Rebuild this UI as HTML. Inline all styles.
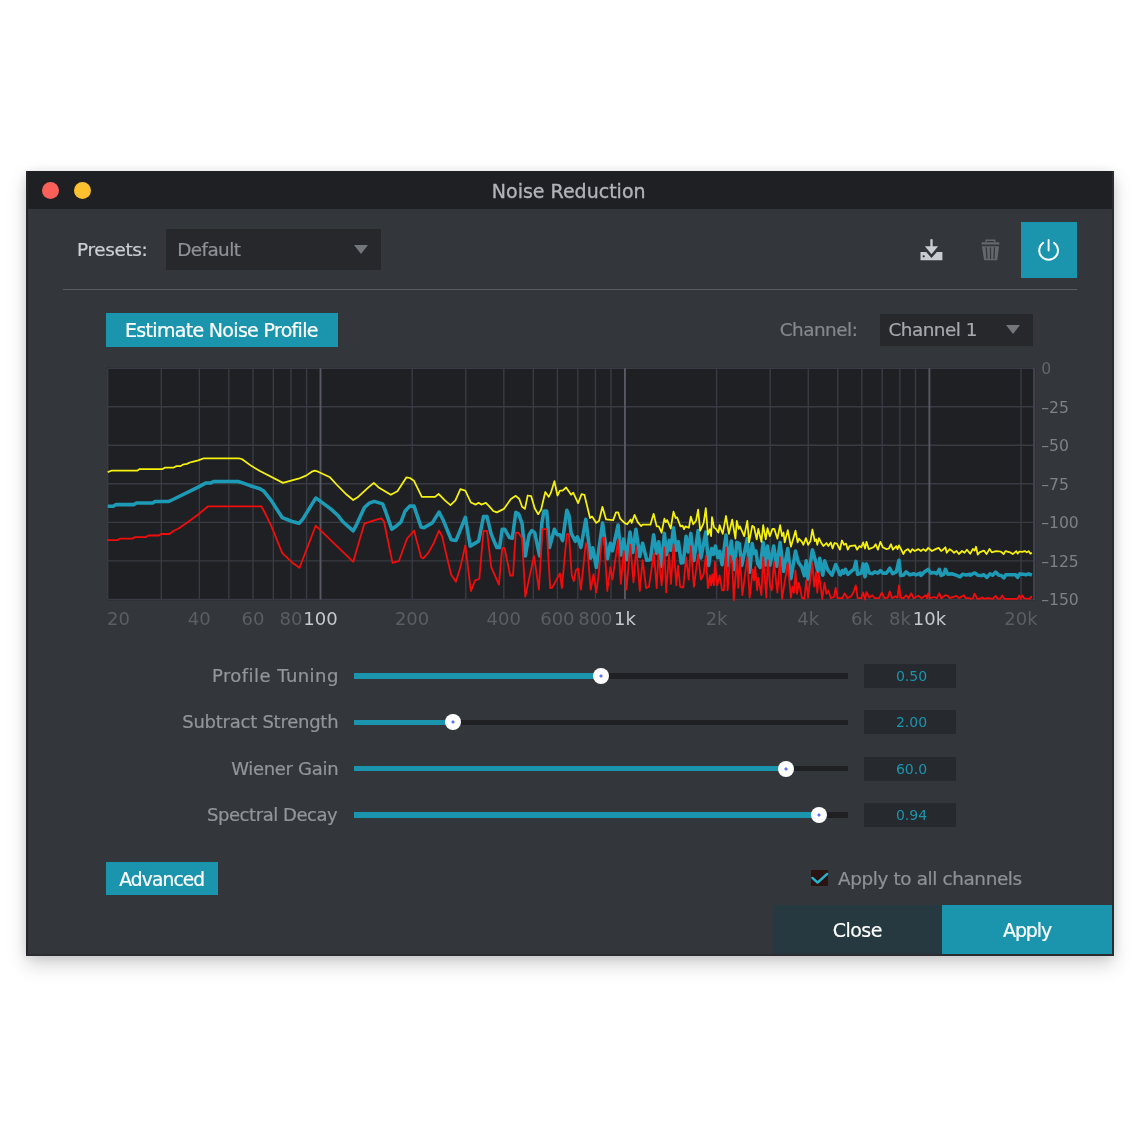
<!DOCTYPE html>
<html lang="en">
<head>
<meta charset="utf-8">
<title>Noise Reduction</title>
<style>
*{box-sizing:border-box;margin:0;padding:0}
html,body{width:1140px;height:1140px;background:#fff;overflow:hidden}
body{font-family:"DejaVu Sans","Liberation Sans",sans-serif;position:relative;color:#8e9196}
.abs{position:absolute}
.t,.btn,.lab{-webkit-text-stroke:.22px currentColor}
.win{position:absolute;left:26px;top:171px;width:1088px;height:784.6px;background:#33363b;
 box-shadow:0 9px 18px rgba(0,0,0,.17),0 1px 10px rgba(0,0,0,.11);will-change:transform;}
.edge{position:absolute;left:0;top:0;width:1088px;height:784.6px;border-left:2px solid #24262a;border-right:2px solid #2a2c30;border-bottom:2px solid #2a2c30;pointer-events:none}
.tbar{position:absolute;left:0;top:0;width:1088px;height:38.4px;background:#1e2023}
.dot{position:absolute;width:17px;height:17px;border-radius:50%;top:11px}
.t{position:absolute;white-space:nowrap;line-height:1}
.title{left:-1.3px;width:1088px;top:10.7px;text-align:center;font-size:19px;color:#b1b4b9;-webkit-text-stroke:.35px #b1b4b9}
.btn{position:absolute;background:#1b94ad;color:#fff;text-align:center;white-space:nowrap}
.dd{position:absolute;background:#26282b}
.tri{position:absolute;width:0;height:0;border-left:7.5px solid transparent;border-right:7.5px solid transparent;border-top:9.5px solid #73767b}
.lab{position:absolute;white-space:nowrap;font-size:18px;line-height:22px;color:#92959a;text-align:right;width:240px;left:72.8px}
.track{position:absolute;left:327.5px;width:494px;height:5.5px;background:#1e2023}
.fill{position:absolute;left:0;top:0;height:5.5px;background:#1b94ad}
.knob{position:absolute;width:16px;height:16px;border-radius:50%;background:radial-gradient(circle at 50% 50%,#5577ff 0,#5577ff 1.1px,#fff 2px);top:-5.25px}
.val{position:absolute;left:837.7px;width:92.3px;padding-left:3.4px;height:24.3px;background:#26292d;color:#1b94ad;font-size:14px;line-height:24.3px;text-align:center}
</style>
</head>
<body>
<div class="win">
  <div class="tbar">
    <div class="dot" style="left:15.8px;background:#f9605a"></div>
    <div class="dot" style="left:48.1px;background:#fdc02f"></div>
    <div class="t title">Noise Reduction</div>
  </div>

  <!-- presets row -->
  <div class="t" style="left:51px;top:69.8px;font-size:18.4px;color:#cdd0d4;letter-spacing:-.35px">Presets:</div>
  <div class="dd" style="left:140px;top:58px;width:215px;height:41px"></div>
  <div class="t" style="left:151.3px;top:69.8px;font-size:18.4px;color:#8e9196;letter-spacing:-.6px">Default</div>
  <div class="tri" style="left:327.7px;top:73.8px"></div>

  <!-- toolbar icons -->
  <svg class="abs" style="left:892px;top:66px" width="28" height="26" viewBox="0 0 28 26">
    <g fill="#c9ccd0">
      <rect x="12.35" y="2.2" width="2.3" height="8"/>
      <path d="M6.9 9.3 L20.1 9.3 L13.5 17.2 Z"/>
      <path d="M2.5 14.9 L8.2 14.9 L13.5 21 L18.8 14.9 L24.4 14.9 L24.4 23.3 L2.5 23.3 Z"/>
    </g>
    <circle cx="5.7" cy="19.3" r="1.15" fill="#33363b"/>
  </svg>
  <svg class="abs" style="left:952px;top:66px" width="26" height="26" viewBox="0 0 26 26">
    <path d="M8.1 5.4 L8.1 3.2 L16.8 3.2 L16.8 5.4" fill="none" stroke="#64676c" stroke-width="1.4"/>
    <g fill="#64676c">
      <path d="M3.9 5.3 L21.1 5.3 L21.6 7.5 L3.4 7.5 Z"/>
      <path d="M3.9 9.2 L21 9.2 L19.3 23.3 L6.1 23.3 Z"/>
    </g>
    <path d="M8.2 10.4 L9.1 21.9 M12.45 10.4 L12.55 21.9 M16.5 10.4 L15.9 21.9" stroke="#33363b" stroke-width="1.25" fill="none"/>
  </svg>
  <div class="abs" style="left:995px;top:51px;width:56px;height:56px;background:#1b94ad"></div>
  <svg class="abs" style="left:1008px;top:66px" width="30" height="30" viewBox="0 0 30 30">
    <path d="M9.2 5.7 A9.4 9.4 0 1 0 20 5.7" fill="none" stroke="#fff" stroke-width="1.9" stroke-linecap="round"/>
    <path d="M14.6 2.9 L14.6 13.5" stroke="#fff" stroke-width="1.9" stroke-linecap="round"/>
  </svg>

  <!-- separator -->
  <div class="abs" style="left:37px;top:117.5px;width:1014px;height:1.5px;background:#5a5d63"></div>

  <!-- estimate + channel -->
  <div class="btn" style="left:80.2px;top:142px;width:232px;height:34px;font-size:19px;line-height:35px;letter-spacing:-.68px;padding-right:1.6px">Estimate Noise Profile</div>
  <div class="t" style="left:753.7px;top:150px;font-size:18.4px;color:#85888d;letter-spacing:-.5px">Channel:</div>
  <div class="dd" style="left:854px;top:142.5px;width:152.5px;height:32.5px"></div>
  <div class="t" style="left:862.4px;top:150px;font-size:18.4px;color:#a5a8ad;letter-spacing:-.5px">Channel 1</div>
  <div class="tri" style="left:980px;top:154px"></div>

  <!-- CHART -->
  <svg id="chart" class="abs" style="left:70px;top:180px" width="1010" height="290" viewBox="96 351 1010 290">
  <!--CHART-CONTENT-->
<rect x="107.0" y="367.5" width="928.3" height="232.7" fill="#1f2024"/>
<path d="M107.7 368.20H1034.1M107.7 406.73H1034.1M107.7 445.27H1034.1M107.7 483.80H1034.1M107.7 522.33H1034.1M107.7 560.87H1034.1M107.7 599.40H1034.1M107.70 368.2V599.4M161.31 368.2V599.4M199.35 368.2V599.4M228.85 368.2V599.4M252.96 368.2V599.4M273.34 368.2V599.4M291.00 368.2V599.4M306.57 368.2V599.4M412.15 368.2V599.4M465.76 368.2V599.4M503.80 368.2V599.4M533.30 368.2V599.4M557.41 368.2V599.4M577.79 368.2V599.4M595.45 368.2V599.4M611.02 368.2V599.4M716.60 368.2V599.4M770.21 368.2V599.4M808.25 368.2V599.4M837.75 368.2V599.4M861.86 368.2V599.4M882.24 368.2V599.4M899.90 368.2V599.4M915.47 368.2V599.4M1021.05 368.2V599.4" stroke="#383b43" stroke-width="1.4" fill="none"/>
<path d="M320.50 368.2V599.4M624.95 368.2V599.4M929.40 368.2V599.4" stroke="#555962" stroke-width="1.9" fill="none"/>
<path d="M1034.1 367.5V600.1" stroke="#41444c" stroke-width="2.1" fill="none"/>
<polyline points="107.7,506.3 113.3,506.3 116.1,504.6 133.7,504.6 136.5,503.0 152.6,503.0 155.4,501.4 168.8,501.4 173.0,499.5 198.2,487.1 206.0,482.9 210.9,482.9 213.7,481.5 238.2,481.5 240.4,482.2 250.2,485.7 259.9,488.8 264.0,491.3 271.1,500.4 282.3,517.7 292.1,521.5 299.1,523.3 302.6,519.4 315.7,498.1 320.2,501.1 330.7,508.9 337.7,515.2 342.6,521.5 353.2,530.9 356.7,524.3 364.4,507.5 369.3,503.2 374.2,501.4 382.6,503.9 385.4,511.0 391.8,529.2 396.7,525.7 400.9,522.2 405.1,511.0 409.9,506.1 414.0,506.1 417.5,516.6 421.1,527.1 423.9,527.8 432.3,522.9 439.0,512.1 443.5,520.8 451.2,539.7 456.1,540.4 465.3,517.3 470.2,546.1 478.6,541.1 483.5,516.6 487.0,516.6 491.2,534.1 496.8,547.5 499.6,547.5 502.2,529.2 504.6,529.2 509.5,537.6 512.3,538.3 515.8,512.4 518.6,513.8 522.1,523.6 525.3,555.9 529.1,534.8 531.9,530.6 534.7,532.7 539.6,555.9 541.8,523.6 543.9,511.0 546.7,511.0 549.5,547.5 554.4,529.2 557.2,534.8 559.9,534.8 562.6,540.6 566.8,510.3 568.9,515.2 571.1,533.0 575.3,541.3 577.4,536.8 580.9,547.5 585.8,519.4 590.7,558.2 592.8,547.8 596.3,567.5 602.6,522.9 607.5,558.7 610.4,543.2 612.5,550.9 618.1,525.0 620.9,555.0 623.7,539.0 626.5,559.8 630.0,532.0 632.8,552.4 635.9,529.2 639.8,556.5 642.6,543.2 646.8,560.2 650.4,559.7 653.6,534.8 656.7,553.5 658.8,541.8 661.6,566.2 664.4,533.4 666.5,554.7 669.3,540.4 670.7,550.3 673.5,527.8 676.3,550.3 678.4,541.8 681.2,563.0 683.3,562.6 686.1,536.2 688.2,552.0 690.8,533.4 693.9,560.5 698.1,530.6 700.9,558.0 705.8,532.0 708.6,565.4 709.9,557.2 711.7,548.5 713.5,554.4 715.4,546.1 717.8,557.7 719.6,551.3 722.1,564.8 726.0,535.0 728.2,565.5 731.3,541.1 734.4,569.4 736.8,542.4 739.3,543.6 741.8,565.5 747.3,538.7 749.7,572.3 752.2,543.6 754.0,553.5 755.9,551.0 757.7,563.7 760.2,567.5 763.2,542.4 765.7,565.1 767.5,546.1 770.0,565.2 773.7,546.1 776.8,566.2 780.1,542.4 783.5,571.3 787.8,548.5 790.9,578.7 795.5,551.0 798.2,562.0 801.9,567.4 804.4,575.7 806.2,560.8 808.1,579.1 812.4,549.7 815.4,560.8 817.9,571.8 819.7,558.3 822.8,575.3 824.6,560.8 827.7,569.8 832.0,575.1 835.7,564.5 839.9,574.5 840.4,574.9 842.3,570.6 843.5,573.1 845.4,569.4 847.8,574.3 852.1,570.6 853.9,569.4 856.0,561.4 857.6,574.3 861.3,573.1 863.2,563.9 865.0,576.8 866.5,563.9 869.3,573.1 872.4,573.7 874.8,571.8 877.9,573.1 880.4,570.6 882.8,573.1 886.5,573.1 889.8,568.2 892.6,573.7 896.3,571.8 899.0,560.2 900.6,575.5 903.7,574.9 906.1,571.8 909.8,574.9 913.5,573.7 916.0,574.9 920.3,573.1 920.9,575.5 924.6,571.8 928.2,569.4 930.7,573.1 934.4,572.5 936.8,573.7 939.3,569.4 941.1,575.5 943.6,574.3 945.4,569.4 947.9,574.3 951.6,573.7 955.3,574.9 960.2,576.8 962.6,574.3 966.3,574.9 969.9,574.3 970.3,575.2 973.3,573.4 975.1,573.0 977.7,575.2 981.2,575.6 983.9,574.7 986.9,577.4 990.0,573.9 992.6,575.2 995.7,572.1 998.8,575.2 1001.4,575.6 1004.0,577.8 1005.8,574.7 1015.4,574.7 1017.6,577.4 1019.8,573.9 1023.3,574.3 1026.0,574.7 1028.6,573.9 1031.9,575.2" fill="none" stroke="#1d9bb6" stroke-width="3.55" stroke-linejoin="round" stroke-linecap="butt"/>
<polyline points="107.0,540.2 117.5,540.2 119.6,538.6 132.3,538.6 135.1,537.1 145.6,537.1 148.4,535.5 158.9,535.5 161.1,534.0 169.5,534.0 173.0,531.3 178.6,528.5 187.7,522.2 198.2,514.5 208.1,506.3 259.9,506.3 261.2,506.1 264.0,511.0 271.1,525.7 282.3,553.1 293.5,563.6 299.5,567.8 315.7,525.7 353.2,561.8 364.4,523.6 374.9,520.1 381.2,518.3 384.0,521.5 392.5,562.9 398.8,561.2 407.2,538.3 409.9,535.5 414.0,530.6 421.1,557.3 423.2,558.4 428.1,553.1 433.7,543.2 439.0,530.6 442.1,536.2 446.3,554.5 451.2,574.8 455.9,581.8 460.4,567.1 465.3,545.4 470.9,591.0 475.1,580.4 479.3,579.0 483.5,530.9 487.0,530.9 491.2,567.1 498.9,584.6 502.2,548.2 504.6,548.2 510.2,575.5 513.0,575.5 515.8,532.7 518.6,532.7 522.1,538.3 525.3,596.6 534.0,555.9 538.9,589.6 542.5,529.2 546.7,529.2 550.2,588.2 552.3,587.5 559.9,573.4 561.9,588.2 566.8,534.1 568.9,534.1 571.8,575.5 573.9,581.1 576.0,569.9 578.1,568.5 580.9,589.6 585.8,543.2 587.2,546.1 590.7,589.6 593.5,574.1 596.3,592.4 598.4,576.9 601.9,539.0 604.0,537.6 607.3,591.0 610.4,567.1 612.5,579.7 618.1,539.7 620.9,583.9 623.7,551.0 626.5,589.6 630.3,544.6 633.5,582.5 636.3,547.5 639.8,591.0 642.6,560.1 646.1,588.2 648.9,586.8 653.9,553.1 656.7,588.2 658.4,554.5 661.6,585.4 664.4,547.5 666.2,592.4 669.0,554.5 671.0,583.9 673.5,544.6 676.3,585.4 678.0,565.7 680.2,586.8 683.3,587.5 686.1,557.3 688.7,579.7 690.8,546.1 693.9,586.8 698.1,554.5 700.9,579.7 703.7,574.1 705.8,555.9 707.9,588.2 709.9,575.5 711.1,585.4 712.3,574.3 713.8,585.4 715.0,562.0 717.2,585.4 719.6,575.5 722.1,590.3 723.9,590.3 726.0,547.3 727.6,590.3 730.3,555.9 732.2,563.2 733.8,600.1 736.8,558.3 738.3,587.8 739.9,557.1 742.4,595.2 747.3,557.1 749.7,597.6 752.8,569.4 754.0,580.4 755.3,566.9 757.1,590.3 758.3,578.0 761.4,595.2 763.2,557.1 766.3,597.6 767.8,560.2 770.0,585.4 771.8,590.3 773.9,562.0 777.4,592.7 780.1,557.1 782.0,598.9 787.8,563.2 790.9,597.6 792.4,586.6 793.9,592.7 795.5,570.6 797.0,593.9 798.9,582.9 801.9,597.6 804.4,598.9 806.2,580.4 808.1,597.6 812.4,563.2 814.2,586.6 816.1,571.8 817.3,592.7 818.9,573.1 822.2,598.9 824.6,582.9 826.5,593.9 828.3,590.3 830.8,598.2 833.9,597.0 835.7,587.8 837.5,598.2 839.9,598.2 842.3,598.2 844.7,593.3 847.2,598.2 850.9,596.4 853.3,592.7 855.8,585.4 857.6,598.2 861.3,598.2 863.2,592.7 865.0,599.5 866.5,592.1 869.3,597.6 872.4,595.2 874.8,598.2 879.1,598.2 881.8,592.7 884.6,598.2 887.7,597.6 889.8,591.5 892.0,598.2 895.1,596.4 897.5,597.6 899.0,585.4 900.6,597.6 903.7,598.2 906.1,595.2 908.6,598.2 911.3,593.3 913.5,598.2 918.4,595.8 921.5,598.2 925.8,595.2 927.0,598.2 928.2,593.3 930.1,598.2 934.4,597.0 936.8,598.2 939.3,593.3 941.1,598.2 945.4,595.2 947.9,595.8 949.7,598.2 956.5,595.8 958.9,598.2 963.9,595.2 965.7,598.2 969.9,598.2 970.3,598.9 972.9,598.4 974.6,593.6 977.3,598.9 979.5,598.9 982.1,597.5 983.9,598.9 987.8,598.0 992.6,598.9 995.7,595.8 997.9,598.9 1000.5,598.4 1002.3,595.4 1004.5,598.9 1017.2,598.9 1019.4,595.4 1020.7,598.9 1022.5,595.4 1024.2,598.4 1029.5,598.9 1031.9,596.2" fill="none" stroke="#f20c0c" stroke-width="1.8" stroke-linejoin="round"/>
<polyline points="107.7,472.1 111.2,470.7 137.2,470.7 139.3,469.1 162.5,469.1 165.3,467.5 173.7,467.5 176.5,466.1 180.7,466.1 182.8,464.6 187.0,463.9 189.8,462.5 193.3,461.6 198.2,460.4 203.9,458.3 238.9,458.3 241.8,459.0 251.6,466.1 259.9,471.0 283.0,482.9 286.5,481.8 298.4,478.7 306.1,475.6 311.8,471.7 314.8,470.7 318.1,471.7 330.0,477.3 337.0,485.0 346.8,494.8 353.2,500.0 358.1,496.9 367.9,487.8 373.8,482.9 379.1,487.8 390.8,494.8 397.4,491.3 406.5,477.3 409.9,478.0 414.0,480.8 421.8,496.9 435.1,496.9 438.6,493.8 444.9,500.4 450.5,505.1 455.4,500.4 460.4,489.2 465.3,490.6 470.9,502.5 475.8,504.6 478.6,502.8 481.4,504.6 485.9,502.8 489.1,506.1 493.3,511.0 496.8,512.4 503.9,508.9 510.9,499.0 515.8,495.8 519.3,499.0 522.1,506.8 524.9,508.9 527.7,495.5 531.2,496.2 534.7,508.2 538.2,514.2 541.1,509.6 545.3,492.0 548.8,496.9 550.9,492.7 554.4,481.2 557.5,495.5 559.9,490.6 562.6,490.6 566.1,487.5 571.1,494.8 573.2,492.7 578.1,503.2 581.6,494.1 584.4,494.8 590.0,518.0 592.1,516.6 596.3,522.9 599.1,520.8 602.4,506.8 606.1,519.4 613.2,520.1 616.0,512.4 618.1,512.4 620.2,518.7 624.4,522.9 627.2,524.3 630.7,519.4 631.7,522.9 634.6,514.8 637.7,522.2 641.2,526.1 642.6,524.7 650.4,524.7 653.6,513.8 656.7,526.4 658.8,526.4 661.6,532.7 664.4,518.7 665.8,522.2 667.2,520.1 670.7,528.5 673.5,511.7 675.6,518.0 677.0,517.3 680.5,526.4 682.6,525.7 684.0,529.2 685.4,526.4 688.9,527.8 690.8,516.6 693.2,524.3 696.0,520.8 698.1,509.6 700.2,530.6 703.7,522.9 705.8,508.2 707.9,534.8 709.9,529.2 711.1,536.2 712.0,517.2 714.1,527.6 716.0,528.9 718.4,532.5 719.6,525.2 722.7,533.8 726.0,516.0 728.9,533.8 732.2,519.6 735.4,538.7 736.8,520.9 738.7,528.9 739.9,526.4 744.2,536.2 747.3,520.9 749.1,542.4 752.2,525.8 754.0,527.0 756.7,539.3 758.3,528.9 761.4,541.8 763.2,525.2 765.7,539.3 767.5,528.2 769.8,536.2 772.5,528.9 774.3,528.9 777.4,538.7 780.1,525.2 782.0,536.2 783.5,532.5 784.7,542.4 787.8,530.1 790.9,546.7 793.6,537.5 795.5,530.7 797.6,542.4 798.9,538.7 801.9,541.8 803.4,544.8 805.9,538.1 808.1,544.8 810.5,541.1 812.4,529.5 814.8,541.1 816.1,539.3 817.3,544.8 818.9,538.1 821.0,542.4 823.4,546.1 826.5,543.0 828.3,546.1 830.8,542.4 832.6,548.5 834.5,543.0 836.9,543.6 839.9,549.7 841.9,540.5 844.1,544.8 846.0,543.6 847.8,549.7 849.6,546.1 855.2,545.4 857.0,549.7 859.5,546.1 861.3,547.3 863.2,542.4 865.0,548.5 866.5,541.8 868.7,549.1 873.6,547.3 875.7,544.2 877.9,549.7 880.4,541.8 882.8,547.3 886.5,549.1 888.9,548.5 891.0,544.2 892.9,549.7 896.3,546.1 897.5,549.1 899.0,545.4 901.2,549.7 903.4,554.0 904.9,551.0 908.0,549.1 910.4,552.2 912.3,549.1 914.7,551.0 918.4,549.1 920.9,551.0 923.3,549.1 925.8,551.0 928.2,547.9 931.9,551.0 935.6,549.1 938.7,547.9 941.1,551.0 943.0,549.7 945.4,547.3 946.7,552.8 949.7,549.1 952.2,551.0 954.0,552.8 956.5,551.0 958.9,554.0 962.0,551.0 964.5,552.8 966.9,549.7 969.9,553.4 970.3,553.7 972.9,548.9 974.6,550.6 976.0,546.7 977.7,554.6 979.5,552.4 983.9,550.6 986.5,554.1 989.6,548.9 991.8,552.4 996.1,551.1 1000.5,551.5 1002.3,552.8 1003.6,554.1 1005.4,551.1 1010.2,552.4 1012.8,554.1 1016.3,551.1 1017.6,553.7 1019.4,551.5 1022.0,551.9 1025.1,551.1 1026.8,552.4 1028.6,551.1 1030.4,553.7 1031.9,552.8" fill="none" stroke="#f6f20c" stroke-width="1.75" stroke-linejoin="round"/>
<g font-family="'DejaVu Sans','Liberation Sans',sans-serif" font-size="15.6" fill="#7e8186">
<text x="1041.2" y="374.0" fill="#62656a">0</text>
<text x="1041.2" y="412.5">–25</text>
<text x="1041.2" y="451.1">–50</text>
<text x="1041.2" y="489.6">–75</text>
<text x="1041.2" y="528.1">–100</text>
<text x="1041.2" y="566.7">–125</text>
<text x="1041.2" y="605.2">–150</text>
</g>
<g font-family="'DejaVu Sans','Liberation Sans',sans-serif" font-size="18" text-anchor="middle">
<text x="107.1" y="625.2" text-anchor="start" fill="#5b5e63">20</text>
<text x="199.3" y="625.2" fill="#5b5e63">40</text>
<text x="253.0" y="625.2" fill="#5b5e63">60</text>
<text x="291.0" y="625.2" fill="#5b5e63">80</text>
<text x="320.5" y="625.2" fill="#c6c9ce">100</text>
<text x="412.1" y="625.2" fill="#5b5e63">200</text>
<text x="503.8" y="625.2" fill="#5b5e63">400</text>
<text x="557.4" y="625.2" fill="#5b5e63">600</text>
<text x="595.4" y="625.2" fill="#5b5e63">800</text>
<text x="625.0" y="625.2" fill="#c6c9ce">1k</text>
<text x="716.6" y="625.2" fill="#5b5e63">2k</text>
<text x="808.2" y="625.2" fill="#5b5e63">4k</text>
<text x="861.9" y="625.2" fill="#5b5e63">6k</text>
<text x="899.9" y="625.2" fill="#5b5e63">8k</text>
<text x="929.4" y="625.2" fill="#c6c9ce">10k</text>
<text x="1021.0" y="625.2" fill="#5b5e63">20k</text>
</g>
<!--/CHART-CONTENT-->
  </svg>

  <!-- sliders -->
  <div class="lab" style="top:494px;letter-spacing:.45px">Profile Tuning</div>
  <div class="lab" style="top:540.4px;letter-spacing:-.25px;left:72.3px">Subtract Strength</div>
  <div class="lab" style="top:586.7px;letter-spacing:-.3px;left:72.3px">Wiener Gain</div>
  <div class="lab" style="top:633px;letter-spacing:-.45px;left:71.3px">Spectral Decay</div>

  <div class="track" style="top:502.25px"><div class="fill" style="width:247px"></div><div class="knob" style="left:239px"></div></div>
  <div class="track" style="top:548.6px"><div class="fill" style="width:99px"></div><div class="knob" style="left:91px"></div></div>
  <div class="track" style="top:594.9px"><div class="fill" style="width:433px"></div><div class="knob" style="left:424.8px"></div></div>
  <div class="track" style="top:641.25px"><div class="fill" style="width:465px"></div><div class="knob" style="left:457px"></div></div>

  <div class="val" style="top:492.8px">0.50</div>
  <div class="val" style="top:539.2px">2.00</div>
  <div class="val" style="top:585.5px">60.0</div>
  <div class="val" style="top:631.8px">0.94</div>

  <!-- bottom -->
  <div class="btn" style="left:80.3px;top:690.7px;width:111.5px;height:33.6px;font-size:18.6px;line-height:35.5px;letter-spacing:-.85px;padding-right:.5px">Advanced</div>

  <div class="abs" style="left:785.3px;top:699.3px;width:17px;height:15.8px;background:#2a1310"></div>
  <svg class="abs" style="left:783px;top:697px" width="22" height="20" viewBox="0 0 22 20">
    <path d="M3.4 9.9 L8.6 14.6 L18.1 5.9" fill="none" stroke="#25b5d3" stroke-width="2.4" stroke-linecap="round" stroke-linejoin="round"/>
  </svg>
  <div class="t" style="left:812px;top:699px;font-size:18.4px;color:#8e9196;letter-spacing:-.38px">Apply to all channels</div>

  <div class="btn" style="left:746.5px;top:733.5px;width:169.7px;height:49.5px;background:#263940;font-size:19px;line-height:50.5px;letter-spacing:-.5px">Close</div>
  <div class="btn" style="left:916.2px;top:733.5px;width:169.8px;height:49.5px;font-size:19px;line-height:50.5px;letter-spacing:-1.1px">Apply</div>
  <div class="edge"></div>
</div>
</body>
</html>
